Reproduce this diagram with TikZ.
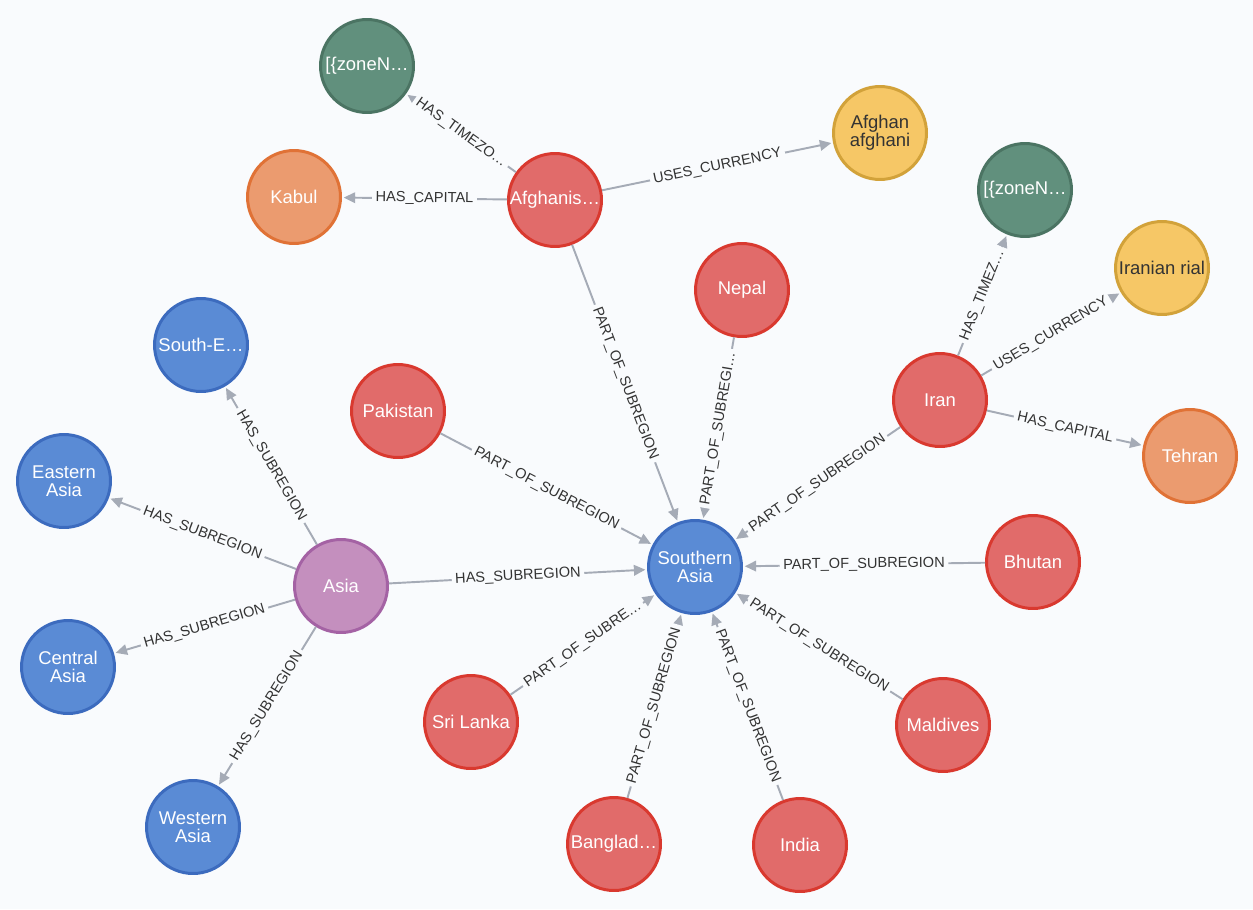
\documentclass[tikz,border=0pt]{standalone}
\usepackage{fontspec}
\setmainfont{Liberation Sans}
\usetikzlibrary{arrows.meta}
\definecolor{PageBg}{HTML}{F9FBFD}
\definecolor{DarkText}{HTML}{333333}
\definecolor{EdgeGrey}{HTML}{A5ABB6}
\definecolor{NodeRed}{HTML}{E16B6A}
\definecolor{RingRed}{HTML}{D9392F}
\definecolor{NodeBlue}{HTML}{5A8BD5}
\definecolor{RingBlue}{HTML}{3C6BBE}
\definecolor{NodePurple}{HTML}{C48FBE}
\definecolor{RingPurple}{HTML}{A462A4}
\definecolor{NodeGreen}{HTML}{61907D}
\definecolor{RingGreen}{HTML}{4B7463}
\definecolor{NodeYellow}{HTML}{F6C766}
\definecolor{RingYellow}{HTML}{D2A23A}
\definecolor{NodeOrange}{HTML}{EB9B6F}
\definecolor{RingOrange}{HTML}{E07236}

\begin{document}
\begin{tikzpicture}[x=0.02cm, y=-0.02cm,
    entity/.style={circle, minimum size=1.86cm, inner sep=0pt, line width=1.7pt,
      align=center, text=white, font=\fontsize{10.5}{10}\selectfont},
    country/.style={entity, draw=RingRed, fill=NodeRed},
    region/.style={entity, draw=RingBlue, fill=NodeBlue},
    continent/.style={entity, draw=RingPurple, fill=NodePurple},
    zone/.style={entity, draw=RingGreen, fill=NodeGreen},
    money/.style={entity, draw=RingYellow, fill=NodeYellow, text=DarkText},
    capital/.style={entity, draw=RingOrange, fill=NodeOrange},
    rel/.style={draw=EdgeGrey, line width=1.1pt,
      -{Triangle[length=6.5pt,width=6pt]}, shorten >=1pt},
    lbl/.style={sloped, fill=PageBg, inner sep=2pt, text=DarkText,
      font=\fontsize{8.3}{9}\selectfont}]

  \fill[PageBg] (0,0) rectangle (1253,909);

  \node[zone]      (tzafg)   at (367,66)   {[\{zoneN…};
  \node[capital]   (kabul)   at (294,197)  {Kabul};
  \node[country]   (afg)     at (555,200)  {Afghanis…};
  \node[money]     (afn)     at (880,133)  {Afghan\\afghani};
  \node[zone]      (tziran)  at (1025,190) {[\{zoneN…};
  \node[money]     (irr)     at (1162,268) {Iranian rial};
  \node[country]   (nepal)   at (742,290)  {Nepal};
  \node[region]    (seasia)  at (201,345)  {South-E…};
  \node[country]   (pak)     at (398,411)  {Pakistan};
  \node[country]   (iran)    at (940,400)  {Iran};
  \node[capital]   (tehran)  at (1190,456) {Tehran};
  \node[region]    (easia)   at (64,481)   {Eastern\\Asia};
  \node[region]    (sasia)   at (695,567)  {Southern\\Asia};
  \node[country]   (bhutan)  at (1033,562) {Bhutan};
  \node[continent] (asia)    at (341,586)  {Asia};
  \node[region]    (casia)   at (68,667)   {Central\\Asia};
  \node[country]   (maldv)   at (943,725)  {Maldives};
  \node[country]   (srilk)   at (471,722)  {Sri Lanka};
  \node[region]    (wasia)   at (193,827)  {Western\\Asia};
  \node[country]   (bangl)   at (614,844)  {Banglad…};
  \node[country]   (india)   at (800,845)  {India};

  \draw[rel] (afg) -- node[lbl] {HAS\_TIMEZO…} (tzafg);
  \draw[rel] (afg) -- node[lbl] {HAS\_CAPITAL} (kabul);
  \draw[rel] (afg) -- node[lbl] {USES\_CURRENCY} (afn);
  \draw[rel] (afg) -- node[lbl] {PART\_OF\_SUBREGION} (sasia);
  \draw[rel] (nepal) -- node[lbl] {PART\_OF\_SUBREGI…} (sasia);
  \draw[rel] (pak) -- node[lbl] {PART\_OF\_SUBREGION} (sasia);
  \draw[rel] (iran) -- node[lbl] {PART\_OF\_SUBREGION} (sasia);
  \draw[rel] (iran) -- node[lbl] {HAS\_TIMEZ…} (tziran);
  \draw[rel] (iran) -- node[lbl] {USES\_CURRENCY} (irr);
  \draw[rel] (iran) -- node[lbl] {HAS\_CAPITAL} (tehran);
  \draw[rel] (bhutan) -- node[lbl] {PART\_OF\_SUBREGION} (sasia);
  \draw[rel] (maldv) -- node[lbl] {PART\_OF\_SUBREGION} (sasia);
  \draw[rel] (india) -- node[lbl] {PART\_OF\_SUBREGION} (sasia);
  \draw[rel] (bangl) -- node[lbl] {PART\_OF\_SUBREGION} (sasia);
  \draw[rel] (srilk) -- node[lbl] {PART\_OF\_SUBRE…} (sasia);
  \draw[rel] (asia) -- node[lbl] {HAS\_SUBREGION} (sasia);
  \draw[rel] (asia) -- node[lbl] {HAS\_SUBREGION} (seasia);
  \draw[rel] (asia) -- node[lbl] {HAS\_SUBREGION} (easia);
  \draw[rel] (asia) -- node[lbl] {HAS\_SUBREGION} (casia);
  \draw[rel] (asia) -- node[lbl] {HAS\_SUBREGION} (wasia);
\end{tikzpicture}
\end{document}
